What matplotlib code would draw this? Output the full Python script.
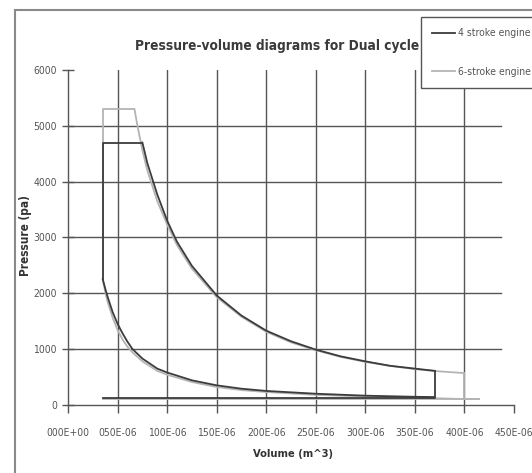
import matplotlib
matplotlib.use("Agg")
from matplotlib import pyplot as plt
from matplotlib import font_manager
from matplotlib.patches import Rectangle

# volumes in E-06 m^3, pressures in pa
# 4 stroke engine: compression, heat in, expansion, blow-down, exhaust line
v4_comp = [370, 350, 300, 250, 200, 175, 150, 125, 100, 90, 75, 65, 60, 55, 50, 45, 40, 38, 35]
p4_comp = [140, 145, 165, 200, 250, 290, 350, 440, 580, 650, 830, 1000, 1130, 1280, 1450, 1660, 1930, 2050, 2250]
v4_top = [35, 35, 75]
p4_top = [2250, 4700, 4700]
v4_exp = [75, 80, 90, 100, 110, 125, 150, 175, 200, 225, 250, 275, 300, 325, 350, 370]
p4_exp = [4700, 4330, 3770, 3300, 2920, 2490, 1960, 1600, 1330, 1140, 990, 870, 780, 700, 650, 610]
v4_low = [370, 370, 35]
p4_low = [610, 120, 120]

# 6-stroke engine
v6_comp = [400, 350, 300, 250, 200, 175, 150, 125, 100, 90, 75, 65, 60, 55, 50, 45, 40, 38, 35]
p6_comp = [105, 130, 150, 180, 230, 265, 320, 410, 540, 610, 780, 940, 1040, 1170, 1340, 1560, 1840, 1980, 2250]
v6_top = [35, 35, 67]
p6_top = [2250, 5300, 5300]
v6_exp = [67, 70, 75, 80, 90, 100, 110, 125, 150, 175, 200, 225, 250, 275, 300, 325, 350, 375, 400]
p6_exp = [5300, 5000, 4560, 4200, 3650, 3230, 2860, 2440, 1930, 1580, 1310, 1120, 980, 860, 770, 700, 640, 600, 570]
v6_low = [400, 400, 415, 35]
p6_low = [570, 105, 105, 105]

x_ticks = [0, 50, 100, 150, 200, 250, 300, 350, 400, 450]
x_labels = ['000E+00', '050E-06', '100E-06', '150E-06', '200E-06',
            '250E-06', '300E-06', '350E-06', '400E-06', '450E-06']
y_ticks = [0, 1000, 2000, 3000, 4000, 5000, 6000]

dark = '#3c3c3c'
light = '#b4b4b4'
gridc = '#555555'


def m3(vals):
    return [v * 1e-6 for v in vals]


def cond(size, weight='normal'):
    return font_manager.FontProperties(family='DejaVu Sans', stretch='condensed',
                                       size=size, weight=weight)


fig = plt.figure(figsize=(5.32, 4.73), dpi=100)
fig.patch.set_facecolor('white')
fig.patches.append(Rectangle((0.028, -0.01), 1.2, 0.989, transform=fig.transFigure,
                             fill=False, edgecolor='#8a8a8a', linewidth=1.5))

ax = fig.add_axes([0.128, 0.144, 0.838, 0.708])

# grid
for v in x_ticks[1:-1]:
    ax.plot([v * 1e-6, v * 1e-6], [0, 6000], color=gridc, lw=1.0, zorder=1)
for p in y_ticks[1:-1]:
    ax.plot([0, 437e-6], [p, p], color=gridc, lw=1.0, zorder=1)

# 6-stroke (light) under 4-stroke (dark)
first = True
for vs, ps in [(v6_comp, p6_comp), (v6_top, p6_top), (v6_exp, p6_exp), (v6_low, p6_low)]:
    ax.plot(m3(vs), ps, color=light, lw=1.3, zorder=2,
            label='6-stroke engine' if first else None)
    first = False
first = True
for vs, ps in [(v4_comp, p4_comp), (v4_top, p4_top), (v4_exp, p4_exp), (v4_low, p4_low)]:
    ax.plot(m3(vs), ps, color=dark, lw=1.3, zorder=3,
            label='4 stroke engine' if first else None)
    first = False

ax.set_xlim(0, 450e-6)
ax.set_ylim(0, 6000)
ax.set_xticks(m3(x_ticks))
ax.set_xticklabels(x_labels, fontproperties=cond(7.5), color='#555555')
ax.set_yticks(y_ticks)
ax.set_yticklabels([str(p) for p in y_ticks], fontproperties=cond(7.5), color='#555555')
ax.tick_params(axis='x', direction='out', length=6, width=1.0, color=gridc, pad=11)
ax.tick_params(axis='y', direction='inout', length=8, width=1.0, color=gridc, pad=4)

for s in ['top', 'right']:
    ax.spines[s].set_visible(False)
for s in ['left', 'bottom']:
    ax.spines[s].set_color(gridc)
    ax.spines[s].set_linewidth(1.0)

ax.set_xlabel('Volume (m^3)', fontproperties=cond(8, 'bold'), color='#333333')
ax.xaxis.set_label_coords(0.505, -0.133)
ax.set_ylabel('Pressure (pa)', fontproperties=cond(8.5, 'bold'), color='#333333')
ax.yaxis.set_label_coords(-0.082, 0.507)

fig.text(0.521, 0.903, 'Pressure-volume diagrams for Dual cycle',
         fontproperties=cond(9.8, 'bold'), color='#3a3a3a', ha='center', va='center')

handles, labels = ax.get_legend_handles_labels()
leg = ax.legend(handles[::-1], labels[::-1], loc='upper left',
                bbox_to_anchor=(0.791, 0.964), bbox_transform=fig.transFigure,
                borderaxespad=0, prop=cond(7.5), labelcolor='#555555',
                fancybox=False, edgecolor='#555555', framealpha=1,
                labelspacing=2.7, borderpad=1.1, handlelength=2.2, handletextpad=0.3)
leg.get_frame().set_linewidth(1.0)

fig.savefig('out.png', dpi=100)
